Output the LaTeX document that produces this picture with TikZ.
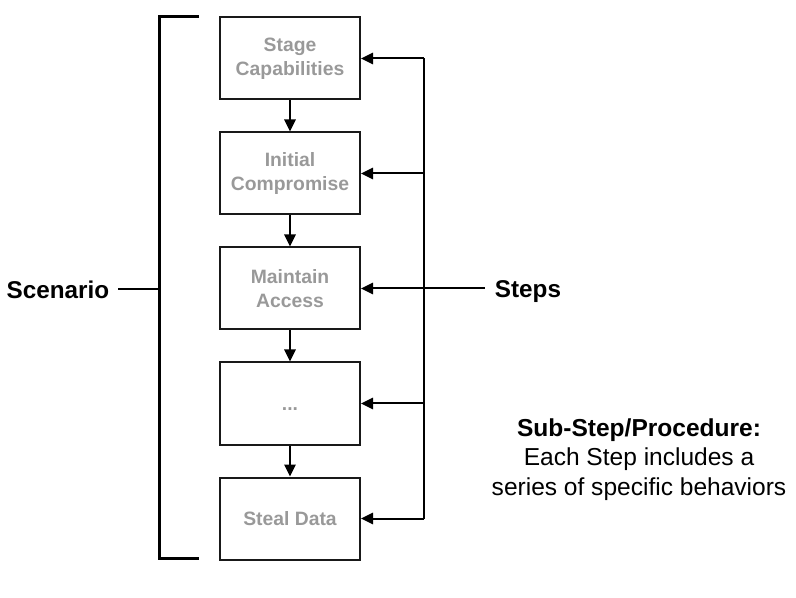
\documentclass[tikz,border=0pt]{standalone}
\usepackage{fontspec}
\setmainfont{Liberation Sans}
\usetikzlibrary{arrows.meta}
\definecolor{boxtext}{HTML}{999999}
\tikzset{
  stagebox/.style={draw=black!90, line width=1.5pt, minimum width=105pt, minimum height=61.5pt,
    align=center, text=boxtext, font=\fontsize{14.5}{18}\selectfont\bfseries, inner sep=0pt},
  link/.style={line width=1.5pt, -{Triangle[length=9pt,width=8.5pt]}},
  plain/.style={line width=1.5pt},
  brace/.style={line width=2.25pt},
  biglabel/.style={font=\fontsize{18.2}{21}\selectfont\bfseries, inner sep=0pt}
}
\begin{document}
\begin{tikzpicture}[x=0.75pt,y=-0.75pt]
\useasboundingbox (0,0) rectangle (796,598);
\node[stagebox] (s1) at (290,58.5) {Stage\\Capabilities};
\node[stagebox] (s2) at (290,173.5) {Initial\\Compromise};
\node[stagebox] (s3) at (290,288.5) {Maintain\\Access};
\node[stagebox] (s4) at (290,403.5) {\raisebox{-5pt}[0pt][0pt]{...}};
\node[stagebox] (s5) at (290,518.5) {Steal Data};
\draw[link] (s1) -- (s2);
\draw[link] (s2) -- (s3);
\draw[link] (s3) -- (s4);
\draw[link] (s4) -- (s5);
% bracket
\coordinate (bt) at (199,17);
\coordinate (bb) at (199,558);
\draw[brace] (bt) -- (159,17) -- (159,558) -- (bb);
\coordinate (bm) at (159,289);
\node[biglabel] (scen) at (58,289.5) {Scenario};
\draw[plain] (bm) -- (118,289);
% steps
\coordinate (r1) at (424,58.5);
\coordinate (r2) at (424,173.5);
\coordinate (r3) at (424,288.5);
\coordinate (r4) at (424,403.5);
\coordinate (r5) at (424,518.5);
\draw[plain] (r1) -- (r5);
\draw[link] (r1) -- (s1.east);
\draw[link] (r2) -- (s2.east);
\draw[link] (r3) -- (s3.east);
\draw[link] (r4) -- (s4.east);
\draw[link] (r5) -- (s5.east);
\node[biglabel] (steps) at (528,291.5) {Steps};
\coordinate (sl) at (485,288.5);
\draw[plain] (r3) -- (sl);
\node[align=center, inner sep=0pt, font=\fontsize{18.4}{22.2}\selectfont] (sub) at (639,459.5)
  {\textbf{Sub-Step/Procedure:}\\Each Step includes a\\series of specific behaviors};
\end{tikzpicture}
\end{document}
